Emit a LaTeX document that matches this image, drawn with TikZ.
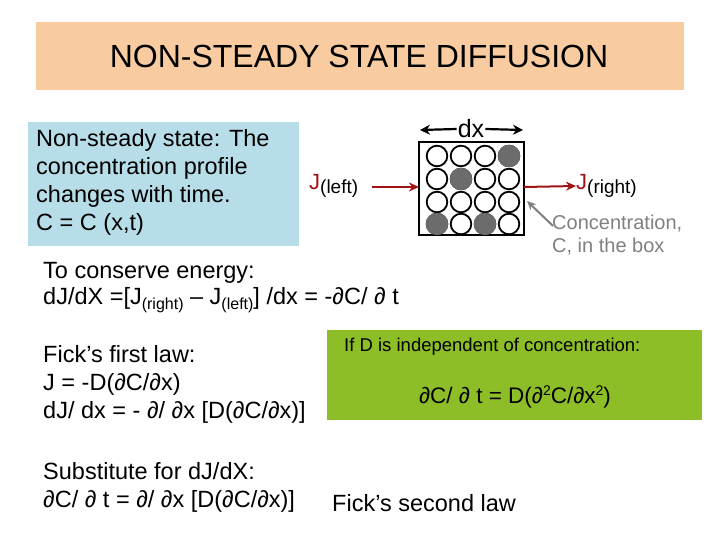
\documentclass[tikz,border=0pt]{standalone}
\usepackage{fontspec}
\usetikzlibrary{arrows.meta}
\setmainfont{Liberation Sans}
\definecolor{peach}{RGB}{248,204,160}
\definecolor{lblue}{RGB}{183,221,232}
\definecolor{lgreen}{RGB}{141,190,40}
\definecolor{dred}{RGB}{160,20,20}
\newcommand{\lowsub}[2]{\raisebox{-0.35ex}{\fontsize{#1}{#1}\selectfont #2}}
\newcommand{\upsup}[1]{\raisebox{0.7ex}{\fontsize{#1}{#1}\selectfont 2}}
\begin{document}
\begin{tikzpicture}[x=1pt,y=-1pt,
  txt/.style={anchor=west,inner sep=0pt,font=\fontsize{23.5}{28}\selectfont},
  red arr/.style={draw=dred,line width=2pt,-{Stealth[length=10pt,width=9pt]}},
  blk arr/.style={line width=2.2pt,-{Stealth[length=10pt,width=10pt]}},
  circ/.style={draw=black,line width=1.8pt},
  dot/.style={fill=gray!85!black,draw=none}]
\useasboundingbox (0,0) rectangle (720,540);
\fill[white] (0,0) rectangle (720,540);
\fill[peach] (36,22) rectangle (684,90);
\node[inner sep=0pt,font=\fontsize{32}{34}\selectfont] (title) at (359,56) {NON-STEADY STATE DIFFUSION};
\fill[lblue] (28,122) rectangle (299,246);
\node[txt,align=left,anchor=north west] (def) at (36,129) {Non-steady state: The\\concentration profile\\changes with time.\\C = C (x,t)};
% box
\draw[line width=2.2pt] (419,142) rectangle (524,235);
\coordinate (bl) at (419,187); \coordinate (br) at (524,187);
\foreach \c/\x in {1/437,2/461,3/485,4/509}{
 \foreach \r/\y in {1/156,2/179,3/202,4/224}{
   \draw[circ] (\x,\y) circle (10.3);
 }}
\fill[dot] (509,156) circle (11.2);
\fill[dot] (461,179) circle (11.2);
\fill[dot] (437,224) circle (11.2);
\fill[dot] (485,224) circle (11.2);
\coordinate (dxl) at (420,130); \coordinate (dxr) at (523,130);
\node[inner sep=1pt,fill=white,font=\fontsize{25}{26}\selectfont] (dx) at (471,129) {dx};
\draw[blk arr] (dx.west) -- (dxl);
\draw[blk arr] (dx.east) -- (dxr);
\node[anchor=west,inner sep=0pt,font=\fontsize{22}{24}\selectfont] (jl) at (309,186) {\textcolor{dred}{J}\lowsub{19}{(left)}};
\node[anchor=west,inner sep=0pt,font=\fontsize{22}{24}\selectfont] (jr) at (576,186) {\textcolor{dred}{J}\lowsub{19}{(right)}};
\draw[red arr] (372,187) -- (bl);
\draw[red arr] (br) -- (jr.west);
\node[anchor=north west,align=left,inner sep=0pt,text=gray,font=\fontsize{20}{23}\selectfont] (conc) at (552,215) {Concentration,\\C, in the box};
\coordinate (ctip) at (527,201);
\draw[gray,line width=2pt,-{Stealth[length=9pt,width=8pt]}] (553,226) -- (ctip);
% text
\node[txt] (t1) at (43,273) {To conserve energy:};
\node[txt] (t2) at (43,300) {dJ/dX =[J\lowsub{16}{(right)} – J\lowsub{16}{(left)}] /dx = -\textit{∂}C/ \textit{∂} t};
\node[txt,align=left,anchor=north west] (t3) at (43,345) {Fick’s first law:\\J = -D(\textit{∂}C/\textit{∂}x)\\dJ/ dx = - \textit{∂}/ \textit{∂}x [D(\textit{∂}C/\textit{∂}x)]};
\node[txt,align=left,anchor=north west] (t4) at (43,462) {Substitute for dJ/dX:\\\textit{∂}C/ \textit{∂} t = \textit{∂}/ \textit{∂}x [D(\textit{∂}C/\textit{∂}x)]};
\node[txt] (t5) at (332,503) {Fick’s second law};
\fill[lgreen] (327,330) rectangle (702,420);
\node[anchor=west,inner sep=0pt,font=\fontsize{18.5}{20}\selectfont] (g1) at (344,347) {If D is independent of concentration:};
\node[inner sep=0pt,font=\fontsize{22.5}{24}\selectfont] (g2) at (515,397) {\textit{∂}C/ \textit{∂} t = D(\textit{∂}\upsup{14}C/\textit{∂}x\upsup{14})};
\end{tikzpicture}
\end{document}
